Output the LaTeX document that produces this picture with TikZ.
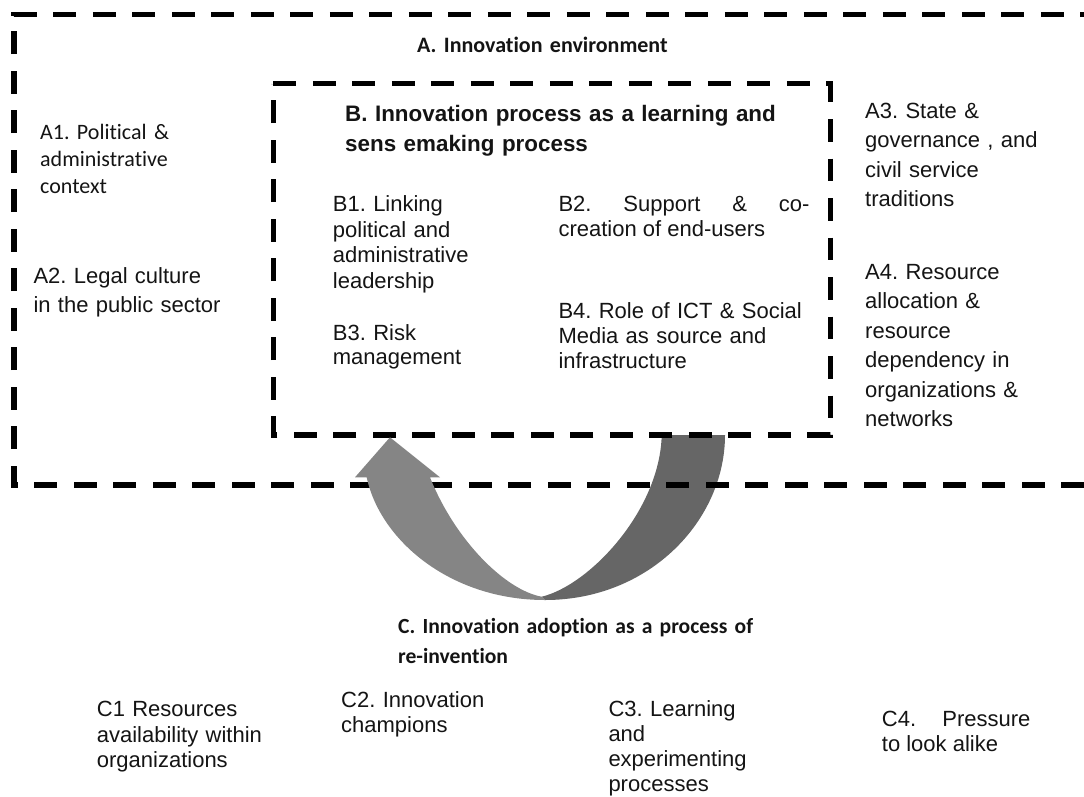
\documentclass[tikz,border=0pt]{standalone}
\usepackage{fontspec}
\setmainfont{Liberation Sans}
\newfontfamily\calfont[Ligatures=NoCommon]{Carlito}
\frenchspacing
\begin{document}
\frenchspacing
\begin{tikzpicture}[x=1pt,y=-1pt,
  txt/.style={anchor=base west, inner sep=0pt, align=left, text=black!92},
  jtxt/.style={anchor=base west, inner sep=0pt, align=justify, text=black!92},
  sf/.style={font=\frenchspacing\fontsize{22}{#1}\selectfont},
  sfb/.style={font=\frenchspacing\bfseries\fontsize{22.4}{#1}\selectfont},
  cf/.style={font=\frenchspacing\calfont\fontsize{22}{#1}\selectfont},
  cfb/.style={font=\frenchspacing\calfont\bfseries\fontsize{#1}{30}\selectfont},
  dashbox/.style={line width=5.5pt, dash pattern=on 22.9pt off 16.6pt},
  arrowlight/.style={fill=black!48},
  arrowdark/.style={fill=black!60}]
\clip (0,0) rectangle (1084,796);
% right (darker) half of the curved arrow, drawn below the boxes
\fill[arrowdark] (661.7,435) -- (725,435) .. controls (725,520) and (650,600) .. (545,600)
  -- (541.7,596.7) .. controls (590,585) and (660,510) .. (661.7,435) -- cycle;
% outer box A (open to the right)
\draw[dashbox, dash phase=13.6pt] (1110,485) -- (14,485) -- (14,14.5) -- (1110,14.5);
% inner box B
\draw[dashbox] (273.3,83.5) -- (830.3,83.5) -- (830.3,435) -- (273.3,435) -- cycle;
% left (lighter) half with the arrow head
\fill[arrowlight] (355,477.3) -- (390,437.3) -- (440,477.3) -- (430,477.3)
  .. controls (455,540) and (505,590) .. (541.7,596.7) -- (545,600)
  .. controls (450,600) and (380,540) .. (366.7,477.3) -- cycle;
% texts
\node[txt, cfb=22, text width=320pt] (envA) at (417,52) {A. Innovation environment};
\node[txt, cf=27, text width=200pt] (A1) at (40,139.3) {A1. Political \&\\administrative\\context};
\node[txt, sf=29.3, text width=220pt] (A2) at (33.3,283.3) {A2. Legal culture\\in the public sector};
\node[txt, sf=29.4, text width=210pt] (A3) at (865,118.3) {A3. State \&\\governance , and\\civil service\\traditions};
\node[txt, sf=29.5, text width=210pt] (A4) at (865,279.3) {A4. Resource\\allocation \&\\resource\\dependency in\\organizations \&\\networks};
\node[txt, sfb=29.3, text width=460pt] (procB) at (345,121.7) {B. Innovation process as a learning and\\sens emaking process};
\node[txt, sf=25.5, text width=200pt] (B1) at (332.7,211.5) {B1. Linking\\political and\\administrative\\leadership};
\node[jtxt, sf=25.3, text width=251pt] (B2) at (558.3,211) {B2. Support \& co-\linebreak creation of end-users};
\node[txt, sf=24.3, text width=200pt] (B3) at (332.7,340) {B3. Risk\\management};
\node[txt, sf=25, text width=260pt] (B4) at (558.3,318.3) {B4. Role of ICT \& Social\\Media as source and\\infrastructure};
\node[txt, cfb=21.6, text width=400pt] (adoptC) at (398,633) {C. Innovation adoption as a process of\\re-invention};
\node[txt, sf=25.3, text width=220pt] (C1) at (96.7,716.7) {C1 Resources\\availability within\\organizations};
\node[txt, sf=25, text width=200pt] (C2) at (341,707) {C2. Innovation\\champions};
\node[txt, sf=25, text width=200pt] (C3) at (608.3,716.7) {C3. Learning\\and\\experimenting\\processes};
\node[jtxt, sf=25, text width=148.5pt] (C4) at (881.7,726.7) {C4. Pressure\linebreak to look alike};
\end{tikzpicture}
\end{document}
